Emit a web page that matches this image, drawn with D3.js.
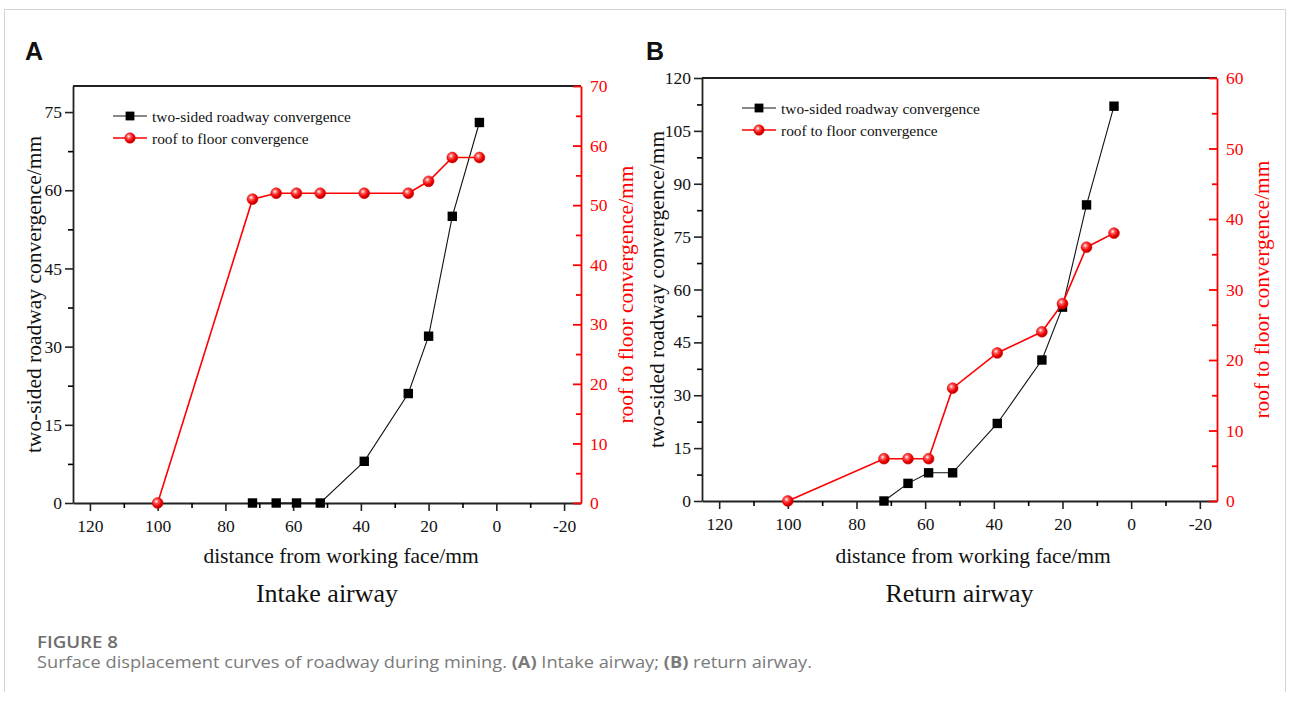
<!DOCTYPE html>
<html>
<head>
<meta charset="utf-8">
<style>
body { margin: 0; background: #fff; }
svg { display: block; }
</style>
</head>
<body>
<svg width="1290" height="702"></svg>
<script src="https://cdn.jsdelivr.net/npm/d3@7"></script>
<script>
// distances from working face
var sideX = [72, 65, 59, 52, 39, 26, 20, 13, 5];
var roofX = [100, 72, 65, 59, 52, 39, 26, 20, 13, 5];

// (A) intake airway
var intakeSide = [0, 0, 0, 0, 8, 21, 32, 55, 73];
var intakeRoof = [0, 51, 52, 52, 52, 52, 52, 54, 58, 58];

// (B) return airway
var returnSide = [0, 5, 8, 8, 22, 40, 55, 84, 112];
var returnRoof = [0, 6, 6, 6, 16, 21, 24, 28, 36, 38];

var xTicks = [120, 100, 80, 60, 40, 20, 0, -20];
var xMinor = [110, 90, 70, 50, 30, 10, -10];
var intakeLeftTicks = [0, 15, 30, 45, 60, 75];
var intakeRightTicks = [0, 10, 20, 30, 40, 50, 60, 70];
var returnLeftTicks = [0, 15, 30, 45, 60, 75, 90, 105, 120];
var returnRightTicks = [0, 10, 20, 30, 40, 50, 60];

var seriesNames = ["two-sided roadway convergence", "roof to floor convergence"];

var svg = d3.select("svg");
var RED = "#ff0000";
var serif = "'Liberation Serif', 'Times New Roman', serif";

// shaded ball marker
var grad = svg.append("defs").append("radialGradient")
    .attr("id", "ball").attr("cx", "38%").attr("cy", "35%").attr("r", "65%");
grad.append("stop").attr("offset", "0%").attr("stop-color", "#fff");
grad.append("stop").attr("offset", "30%").attr("stop-color", "#ff5a5a");
grad.append("stop").attr("offset", "70%").attr("stop-color", "#f00000");
grad.append("stop").attr("offset", "100%").attr("stop-color", "#b00000");

// card border
svg.append("path")
    .attr("d", "M4.5,692 V9.5 H1285.5 V692")
    .attr("fill", "none").attr("stroke", "#d4d4d4").attr("stroke-width", 1);

function between(ticks) {
    var out = [];
    for (var i = 0; i < ticks.length - 1; i++) out.push((ticks[i] + ticks[i + 1]) / 2);
    return out;
}

function plain(d) { return String(d); } // hyphen minus, like the original

function panel(p) {
    var x = d3.scaleLinear().domain([125, -25]).range([p.left, p.right]);
    var yL = d3.scaleLinear().domain([0, p.leftMax]).range([p.bottom, p.top]);
    var yR = d3.scaleLinear().domain([0, p.rightMax]).range([p.bottom, p.top]);
    var g = svg.append("g");

    // top frame
    g.append("line")
        .attr("x1", p.left).attr("x2", p.right)
        .attr("y1", p.top).attr("y2", p.top)
        .attr("stroke", "#222").attr("stroke-width", 1.8);

    var ax = g.append("g").attr("transform", "translate(0," + p.bottom + ")")
        .call(d3.axisBottom(x).tickValues(xTicks).tickSize(8).tickSizeOuter(0).tickPadding(9)
            .tickFormat(plain));
    g.append("g").attr("transform", "translate(0," + p.bottom + ")")
        .call(d3.axisBottom(x).tickValues(xMinor).tickSize(5).tickFormat(""))
        .select(".domain").remove();

    var ay = g.append("g").attr("transform", "translate(" + p.left + ",0)")
        .call(d3.axisLeft(yL).tickValues(p.leftTicks).tickSize(8).tickSizeOuter(0).tickPadding(3)
            .tickFormat(plain));
    g.append("g").attr("transform", "translate(" + p.left + ",0)")
        .call(d3.axisLeft(yL).tickValues(between(p.leftTicks)).tickSize(5).tickFormat(""))
        .select(".domain").remove();

    var ar = g.append("g").attr("transform", "translate(" + p.right + ",0)")
        .call(d3.axisRight(yR).tickValues(p.rightTicks).tickSize(-8).tickSizeOuter(0).tickPadding(9)
            .tickFormat(plain));
    var arm = g.append("g").attr("transform", "translate(" + p.right + ",0)")
        .call(d3.axisRight(yR).tickValues(between(p.rightTicks)).tickSize(-5).tickFormat(""));
    arm.select(".domain").remove();

    g.selectAll("g.tick text")
        .attr("font-family", serif).attr("font-size", 17.5);
    [ax, ay].forEach(function (a) {
        a.selectAll("path, line").attr("stroke", "#222").attr("stroke-width", 1.8);
        a.selectAll("text").attr("fill", "#111");
    });
    g.selectAll("g.tick line").attr("stroke-width", 1.6);
    [ar, arm].forEach(function (a) {
        a.selectAll("path, line").attr("stroke", RED).attr("stroke-width", 1.8);
        a.selectAll("text").attr("fill", RED);
    });

    // axis titles
    g.append("text")
        .attr("transform", "translate(" + p.leftTitleX + "," + (p.top + p.bottom) / 2 + ") rotate(-90)")
        .attr("text-anchor", "middle").attr("dominant-baseline", "central")
        .attr("font-family", serif).attr("font-size", 21.5).attr("fill", "#111")
        .text("two-sided roadway convergence/mm");
    g.append("text")
        .attr("transform", "translate(" + p.rightTitleX + "," + (p.top + p.bottom) / 2 + ") rotate(-90)")
        .attr("text-anchor", "middle").attr("dominant-baseline", "central")
        .attr("font-family", serif).attr("font-size", 21.5).attr("fill", RED)
        .text("roof to floor convergence/mm");
    g.append("text")
        .attr("x", p.xTitleX).attr("y", 563)
        .attr("text-anchor", "middle")
        .attr("font-family", serif).attr("font-size", 21.5).attr("fill", "#111")
        .text("distance from working face/mm");
    g.append("text")
        .attr("x", (p.left + p.right) / 2).attr("y", 602)
        .attr("text-anchor", "middle")
        .attr("font-family", serif).attr("font-size", 26).attr("fill", "#111")
        .text(p.subtitle);
    g.append("text")
        .attr("x", p.labelX).attr("y", 60)
        .attr("font-family", "'Liberation Sans', Arial, sans-serif")
        .attr("font-weight", "bold").attr("font-size", 25).attr("fill", "#111")
        .text(p.label);

    // series
    var side = sideX.map(function (d, i) { return [d, p.side[i]]; });
    var roof = roofX.map(function (d, i) { return [d, p.roof[i]]; });

    g.append("path").datum(side)
        .attr("fill", "none").attr("stroke", "#111").attr("stroke-width", 1.1)
        .attr("d", d3.line().x(function (d) { return x(d[0]); }).y(function (d) { return yL(d[1]); }));
    g.selectAll(".sq").data(side).enter().append("rect")
        .attr("x", function (d) { return x(d[0]) - 4.7; })
        .attr("y", function (d) { return yL(d[1]) - 4.7; })
        .attr("width", 9.4).attr("height", 9.4).attr("fill", "#000");

    g.append("path").datum(roof)
        .attr("fill", "none").attr("stroke", RED).attr("stroke-width", 1.6)
        .attr("d", d3.line().x(function (d) { return x(d[0]); }).y(function (d) { return yR(d[1]); }));
    g.selectAll(".ball").data(roof).enter().append("circle")
        .attr("cx", function (d) { return x(d[0]); })
        .attr("cy", function (d) { return yR(d[1]); })
        .attr("r", 5.4).attr("fill", "url(#ball)").attr("stroke", "#e00000").attr("stroke-width", 0.6);

    // legend
    var lx = p.left + 40, ly = p.top + 30;
    var leg = g.append("g");
    leg.append("line").attr("x1", lx).attr("x2", lx + 34).attr("y1", ly).attr("y2", ly)
        .attr("stroke", "#111").attr("stroke-width", 1.1);
    leg.append("rect").attr("x", lx + 17 - 4.4).attr("y", ly - 4.4).attr("width", 8.8).attr("height", 8.8)
        .attr("fill", "#000");
    leg.append("line").attr("x1", lx).attr("x2", lx + 34).attr("y1", ly + 22).attr("y2", ly + 22)
        .attr("stroke", RED).attr("stroke-width", 1.6);
    leg.append("circle").attr("cx", lx + 17).attr("cy", ly + 22).attr("r", 5.2)
        .attr("fill", "url(#ball)").attr("stroke", "#e00000").attr("stroke-width", 0.6);
    leg.selectAll("text").data(seriesNames).enter().append("text")
        .attr("x", lx + 39).attr("y", function (d, i) { return ly + i * 22; })
        .attr("dominant-baseline", "central")
        .attr("font-family", serif).attr("font-size", 15.4).attr("fill", "#111")
        .text(function (d) { return d; });
}

panel({
    label: "A", labelX: 25, subtitle: "Intake airway",
    left: 73, right: 581, top: 86, bottom: 503,
    leftMax: 80, rightMax: 70,
    leftTicks: intakeLeftTicks, rightTicks: intakeRightTicks,
    side: intakeSide, roof: intakeRoof,
    leftTitleX: 34, rightTitleX: 626, xTitleX: 341
});

panel({
    label: "B", labelX: 646, subtitle: "Return airway",
    left: 702, right: 1217, top: 78, bottom: 501,
    leftMax: 120, rightMax: 60,
    leftTicks: returnLeftTicks, rightTicks: returnRightTicks,
    side: returnSide, roof: returnRoof,
    leftTitleX: 657, rightTitleX: 1262, xTitleX: 973
});

// caption
svg.append("text")
    .attr("x", 37).attr("y", 648)
    .attr("font-family", "'Open Sans', 'Noto Sans', sans-serif")
    .attr("font-weight", 600).attr("font-size", 17).attr("fill", "#6e6e6e")
    .attr("textLength", 81).attr("lengthAdjust", "spacingAndGlyphs")
    .text("FIGURE 8");
var cap = svg.append("text")
    .attr("x", 37).attr("y", 668)
    .attr("font-family", "'Open Sans', 'Noto Sans', sans-serif")
    .attr("font-size", 16).attr("fill", "#7a7a7a")
    .attr("textLength", 775).attr("lengthAdjust", "spacingAndGlyphs");
cap.append("tspan").text("Surface displacement curves of roadway during mining. ");
cap.append("tspan").attr("font-weight", 700).text("(A)");
cap.append("tspan").text(" Intake airway; ");
cap.append("tspan").attr("font-weight", 700).text("(B)");
cap.append("tspan").text(" return airway.");
</script>
</body>
</html>
